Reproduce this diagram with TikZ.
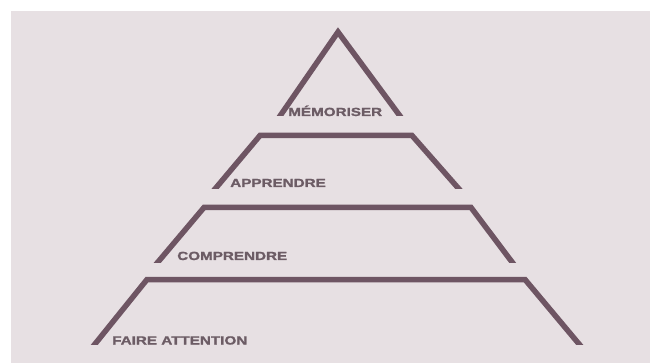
\documentclass[tikz,border=0pt]{standalone}
\usepackage{fontspec}
\setmainfont{Liberation Sans}[BoldFeatures={FakeBold=1.2}]
\definecolor{bg}{RGB}{231,224,227}
\definecolor{ln}{RGB}{110,85,99}
\definecolor{tx}{RGB}{108,92,101}
\tikzset{
  level/.style={draw=ln, line width=5.5pt, line join=miter, shorten <=-5pt, shorten >=-5pt},
  lbl/.style={text=tx, font=\bfseries\fontsize{11.8}{12}\selectfont, inner sep=0pt, anchor=base west, xscale=1.29}
}
\begin{document}
\begin{tikzpicture}[x=1pt,y=-1pt]
\useasboundingbox (0,0) rectangle (650,363);
\fill[bg] (11,11) rectangle (650,363);
% top triangle
\begin{scope}
\clip (0,0) rectangle (650,116);
\draw[level] (280,116) -- (338,32) -- (400,116);
\end{scope}
% level 2
\begin{scope}
\clip (0,0) rectangle (650,189);
\draw[level] (215,189) -- (260,135.5) -- (412,135.5) -- (459,189);
\end{scope}
% level 3
\begin{scope}
\clip (0,0) rectangle (650,262);
\draw[level] (158,262) -- (204,207.5) -- (471,207.5) -- (512,262);
\end{scope}
% level 4
\begin{scope}
\clip (0,0) rectangle (650,344);
\draw[level] (95,344) -- (147,279.5) -- (525,279.5) -- (579,344);
\end{scope}
\node[lbl] (memo) at (288,116) {MÉMORISER};
\node[lbl] (appr) at (230,187) {APPRENDRE};
\node[lbl] (comp) at (177,260) {COMPRENDRE};
\node[lbl] (fair) at (112,344.5) {FAIRE ATTENTION};
\end{tikzpicture}
\end{document}
